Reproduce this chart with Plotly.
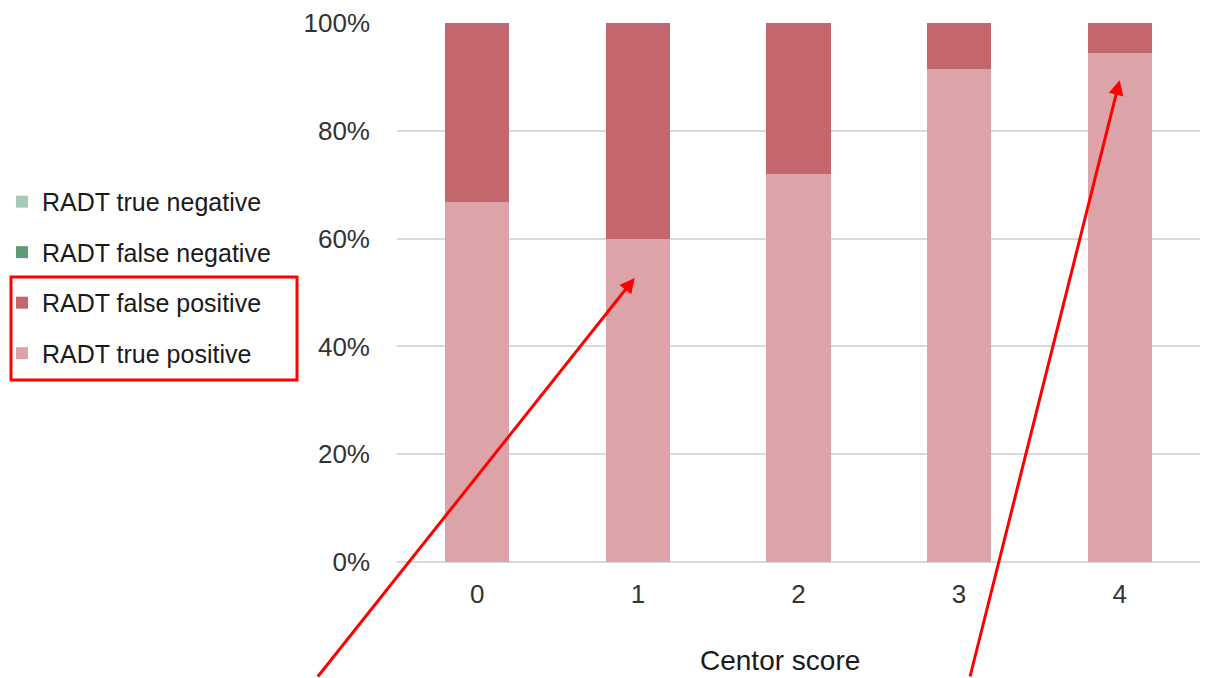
import plotly.graph_objects as go

# Share of RADT outcomes by Centor score (percent of tests)
centor_scores = ["0", "1", "2", "3", "4"]
true_positive = [66.7, 60.0, 72.0, 91.5, 94.5]
false_positive = [33.3, 40.0, 28.0, 8.5, 5.5]
false_negative = [0, 0, 0, 0, 0]
true_negative = [0, 0, 0, 0, 0]

y_ticks = [0, 20, 40, 60, 80, 100]
y_tick_labels = ["0%", "20%", "40%", "60%", "80%", "100%"]

# (name, values, colour, position in legend)
series = [
    ("RADT true positive", true_positive, "#DCA4A9", 4),
    ("RADT false positive", false_positive, "#C4666E", 3),
    ("RADT false negative", false_negative, "#5E9A78", 2),
    ("RADT true negative", true_negative, "#A8C9B9", 1),
]

fig = go.Figure()
for name, values, color, rank in series:
    fig.add_trace(go.Bar(
        x=centor_scores, y=values, name=name,
        marker=dict(color=color, line=dict(width=0)),
        width=0.4, legendgroup=name, legendrank=rank,
    ))

font_family = "Liberation Sans, Arial, sans-serif"

fig.update_layout(
    barmode="stack",
    width=1209, height=678,
    margin=dict(l=397, r=9, t=23, b=116, autoexpand=False),
    paper_bgcolor="white", plot_bgcolor="white",
    font=dict(family=font_family, color="#262626"),
    showlegend=True,
    legend=dict(
        x=-0.4919, xanchor="left", y=0.528, yanchor="middle",
        traceorder="grouped", tracegroupgap=15,
        font=dict(size=25, color="#1a1a1a"),
        bgcolor="rgba(0,0,0,0)", borderwidth=0,
        itemwidth=30,
    ),
    xaxis=dict(
        type="category", range=[-0.5, 4.5],
        tickfont=dict(size=26, color="#333333"),
        showline=False, showgrid=False, zeroline=False,
        ticklabelstandoff=14,
    ),
    yaxis=dict(
        range=[0, 100], tickvals=y_ticks, ticktext=y_tick_labels,
        tickfont=dict(size=26, color="#333333"),
        showgrid=True, gridcolor="#D9D9D9", gridwidth=1.5,
        zeroline=True, zerolinecolor="#D9D9D9", zerolinewidth=1.5,
        showline=False, ticklabelstandoff=26,
    ),
)

# x-axis title
fig.add_annotation(
    text="Centor score", xref="paper", yref="paper",
    x=0.477, y=-0.182, xanchor="center", yanchor="middle",
    showarrow=False, font=dict(size=28, color="#1a1a1a"),
)

# Red frame around the positive-result legend entries
fig.add_shape(
    type="rect", xref="paper", yref="paper",
    x0=-0.4807, x1=-0.1245, y0=0.3377, y1=0.5288,
    line=dict(color="#FF0000", width=3), fillcolor="rgba(0,0,0,0)",
)

# Red arrows pointing at the score 1 and score 4 bars
fig.add_annotation(
    x=0.98, y=52.7, xref="x", yref="y", text="",
    showarrow=True, arrowhead=2, arrowsize=1, arrowwidth=3, arrowcolor="#FF0000",
    ax=-318, ay=410, axref="pixel", ayref="pixel",
)
fig.add_annotation(
    x=4.0, y=89.4, xref="x", yref="y", text="",
    showarrow=True, arrowhead=2, arrowsize=1, arrowwidth=3, arrowcolor="#FF0000",
    ax=-150, ay=610, axref="pixel", ayref="pixel",
)

fig.write_html("out.html")
